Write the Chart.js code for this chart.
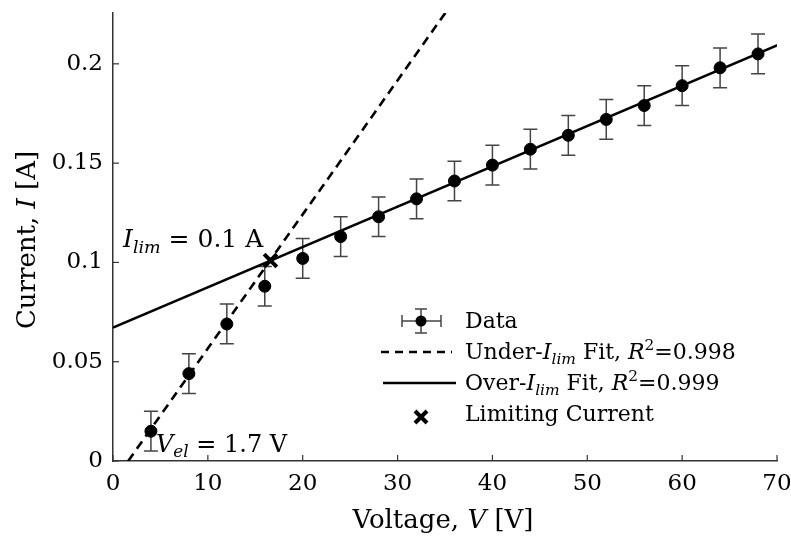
<!DOCTYPE html>
<html>
<head>
<meta charset="utf-8">
<script src="https://cdn.jsdelivr.net/npm/chart.js@4/dist/chart.umd.min.js"></script>
<style>
  html, body { margin: 0; padding: 0; background: #fff; }
  #wrap { width: 791px; height: 540px; }
</style>
</head>
<body>
<div id="wrap"><canvas id="ivChart" width="791" height="540"></canvas></div>
<script>
// measured points
const voltage = [4, 8, 12, 16, 20, 24, 28, 32, 36, 40, 44, 48, 52, 56, 60, 64, 68];
const current = [0.015, 0.044, 0.069, 0.088, 0.102, 0.113, 0.123, 0.132, 0.141, 0.149, 0.157, 0.164, 0.172, 0.179, 0.189, 0.198, 0.205];
const currentErr = [0.01, 0.01, 0.01, 0.01, 0.01, 0.01, 0.01, 0.01, 0.01, 0.01, 0.01, 0.01, 0.01, 0.01, 0.01, 0.01, 0.01];

// fits
const underFitV = [1.6, 35.5];
const underFitI = [0, 0.2288];
const overFitV = [0, 70.3];
const overFitI = [0.0672, 0.2099];

// limiting current
const limitV = [16.6];
const limitI = [0.101];

const xTicks = [0, 10, 20, 30, 40, 50, 60, 70];
const yTicks = [0, 0.05, 0.1, 0.15, 0.2];

const FONT = '"DejaVu Serif", "Liberation Serif", serif';

function pts(xs, ys) {
    return xs.map((x, i) => ({ x: x, y: ys[i] }));
}

// draw text made of pieces (italic, subscript, superscript)
function drawRich(ctx, x, y, parts, size) {
    let cx = x;
    parts.forEach(p => {
        let s = size;
        let dy = 0;
        if (p.sub) { s = size * 0.7; dy = size * 0.22; }
        if (p.sup) { s = size * 0.7; dy = -size * 0.4; }
        ctx.font = (p.it ? 'italic ' : '') + s + 'px ' + FONT;
        ctx.fillText(p.t, cx, y + dy);
        cx += ctx.measureText(p.t).width;
    });
    return cx - x;
}

function richWidth(ctx, parts, size) {
    let w = 0;
    parts.forEach(p => {
        const s = (p.sub || p.sup) ? size * 0.7 : size;
        ctx.font = (p.it ? 'italic ' : '') + s + 'px ' + FONT;
        w += ctx.measureText(p.t).width;
    });
    return w;
}

const errorBars = {
    id: 'errorBars',
    beforeDatasetsDraw(chart) {
        const ctx = chart.ctx;
        const xs = chart.scales.x, ys = chart.scales.y;
        ctx.save();
        ctx.strokeStyle = '#444';
        ctx.lineWidth = 1.5;
        voltage.forEach((v, i) => {
            const px = xs.getPixelForValue(v);
            const top = ys.getPixelForValue(current[i] + currentErr[i]);
            const bot = ys.getPixelForValue(current[i] - currentErr[i]);
            ctx.beginPath();
            ctx.moveTo(px, top); ctx.lineTo(px, bot);
            ctx.moveTo(px - 7, top); ctx.lineTo(px + 7, top);
            ctx.moveTo(px - 7, bot); ctx.lineTo(px + 7, bot);
            ctx.stroke();
        });
        ctx.restore();
    }
};

const decorations = {
    id: 'decorations',
    afterDraw(chart) {
        const ctx = chart.ctx;
        const xs = chart.scales.x, ys = chart.scales.y;
        const area = chart.chartArea;
        ctx.save();

        // inward ticks
        ctx.strokeStyle = '#333';
        ctx.lineWidth = 1.2;
        xTicks.forEach(v => {
            const px = xs.getPixelForValue(v);
            ctx.beginPath();
            ctx.moveTo(px, area.bottom);
            ctx.lineTo(px, area.bottom - 6);
            ctx.stroke();
        });
        yTicks.forEach(v => {
            const py = ys.getPixelForValue(v);
            ctx.beginPath();
            ctx.moveTo(area.left, py);
            ctx.lineTo(area.left + 6, py);
            ctx.stroke();
        });

        ctx.fillStyle = '#000';
        ctx.textBaseline = 'alphabetic';
        ctx.textAlign = 'left';

        // axis titles
        const xTitle = [{ t: 'Voltage, ' }, { t: 'V', it: true }, { t: ' [V]' }];
        const xw = richWidth(ctx, xTitle, 26);
        drawRich(ctx, 443 - xw / 2, 528, xTitle, 26);

        const yTitle = [{ t: 'Current, ' }, { t: 'I', it: true }, { t: ' [A]' }];
        const yw = richWidth(ctx, yTitle, 26);
        ctx.save();
        ctx.translate(35, 240);
        ctx.rotate(-Math.PI / 2);
        drawRich(ctx, -yw / 2, 0, yTitle, 26);
        ctx.restore();

        // annotations
        drawRich(ctx, 123, 247, [{ t: 'I', it: true }, { t: 'lim', it: true, sub: true }, { t: ' = 0.1 A' }], 25);
        drawRich(ctx, 156, 452, [{ t: 'V', it: true }, { t: 'el', it: true, sub: true }, { t: ' = 1.7 V' }], 24);

        // legend
        const lx = 465;
        const rows = [328, 359, 390, 421];
        const ls = 22;
        ctx.fillStyle = '#000';
        drawRich(ctx, lx, rows[0], [{ t: 'Data' }], ls);
        drawRich(ctx, lx, rows[1], [{ t: 'Under-' }, { t: 'I', it: true }, { t: 'lim', it: true, sub: true }, { t: ' Fit, ' }, { t: 'R', it: true }, { t: '2', sup: true }, { t: '=0.998' }], ls);
        drawRich(ctx, lx, rows[2], [{ t: 'Over-' }, { t: 'I', it: true }, { t: 'lim', it: true, sub: true }, { t: ' Fit, ' }, { t: 'R', it: true }, { t: '2', sup: true }, { t: '=0.999' }], ls);
        drawRich(ctx, lx, rows[3], [{ t: 'Limiting Current' }], ls);

        // legend samples
        const mx = 421;
        const dy0 = rows[0] - 7;
        ctx.strokeStyle = '#444';
        ctx.lineWidth = 1.5;
        ctx.beginPath();
        ctx.moveTo(402, dy0); ctx.lineTo(441, dy0);
        ctx.moveTo(402, dy0 - 6); ctx.lineTo(402, dy0 + 6);
        ctx.moveTo(441, dy0 - 6); ctx.lineTo(441, dy0 + 6);
        ctx.moveTo(mx, dy0 - 12); ctx.lineTo(mx, dy0 + 12);
        ctx.moveTo(mx - 6, dy0 - 12); ctx.lineTo(mx + 6, dy0 - 12);
        ctx.moveTo(mx - 6, dy0 + 12); ctx.lineTo(mx + 6, dy0 + 12);
        ctx.stroke();
        ctx.beginPath();
        ctx.arc(mx, dy0, 5.5, 0, Math.PI * 2);
        ctx.fill();

        ctx.strokeStyle = '#000';
        ctx.lineWidth = 2.5;
        ctx.setLineDash([8, 6]);
        ctx.beginPath();
        ctx.moveTo(381, rows[1] - 7); ctx.lineTo(452, rows[1] - 7);
        ctx.stroke();
        ctx.setLineDash([]);
        ctx.beginPath();
        ctx.moveTo(383, rows[2] - 7); ctx.lineTo(456, rows[2] - 7);
        ctx.stroke();

        ctx.lineWidth = 4;
        const cy = rows[3] - 4;
        ctx.beginPath();
        ctx.moveTo(mx - 6, cy - 6); ctx.lineTo(mx + 6, cy + 6);
        ctx.moveTo(mx + 6, cy - 6); ctx.lineTo(mx - 6, cy + 6);
        ctx.stroke();

        ctx.restore();
    }
};

const ctx = document.getElementById('ivChart').getContext('2d');
const ivChart = new Chart(ctx, {
    type: 'scatter',
    data: {
        datasets: [
            {
                label: 'Under-Ilim Fit',
                data: pts(underFitV, underFitI),
                showLine: true,
                borderColor: '#000',
                borderWidth: 2.6,
                borderDash: [9, 6],
                pointRadius: 0,
                order: 3
            },
            {
                label: 'Over-Ilim Fit',
                data: pts(overFitV, overFitI),
                showLine: true,
                borderColor: '#000',
                borderWidth: 2.6,
                pointRadius: 0,
                order: 2
            },
            {
                label: 'Data',
                data: pts(voltage, current),
                backgroundColor: '#000',
                borderColor: '#000',
                pointRadius: 6,
                order: 1
            },
            {
                label: 'Limiting Current',
                data: pts(limitV, limitI),
                pointStyle: 'crossRot',
                pointRadius: 9,
                borderColor: '#000',
                borderWidth: 4,
                order: 0
            }
        ]
    },
    options: {
        responsive: false,
        animation: false,
        layout: { padding: { top: 12, right: 14, left: 0, bottom: 0 } },
        plugins: {
            legend: { display: false },
            tooltip: { enabled: false }
        },
        scales: {
            x: {
                type: 'linear',
                min: 0,
                max: 70,
                afterFit: s => {
                    s.height = 79;
                    s.paddingLeft = 0;
                    s.paddingRight = 0;
                },
                ticks: {
                    stepSize: 10,
                    padding: 9,
                    color: '#000',
                    font: { family: FONT, size: 23 }
                },
                grid: { display: true, drawOnChartArea: false, drawTicks: false },
                border: { display: true, color: '#333', width: 1.5 }
            },
            y: {
                type: 'linear',
                min: 0,
                max: 0.2256,
                afterFit: s => {
                    s.width = 113;
                    s.paddingTop = 0;
                    s.paddingBottom = 0;
                },
                ticks: {
                    stepSize: 0.05,
                    includeBounds: false,
                    padding: 10,
                    color: '#000',
                    font: { family: FONT, size: 23 },
                    callback: v => String(Math.round(v * 100) / 100)
                },
                grid: { display: true, drawOnChartArea: false, drawTicks: false },
                border: { display: true, color: '#333', width: 1.5 }
            }
        }
    },
    plugins: [errorBars, decorations]
});
</script>
</body>
</html>
